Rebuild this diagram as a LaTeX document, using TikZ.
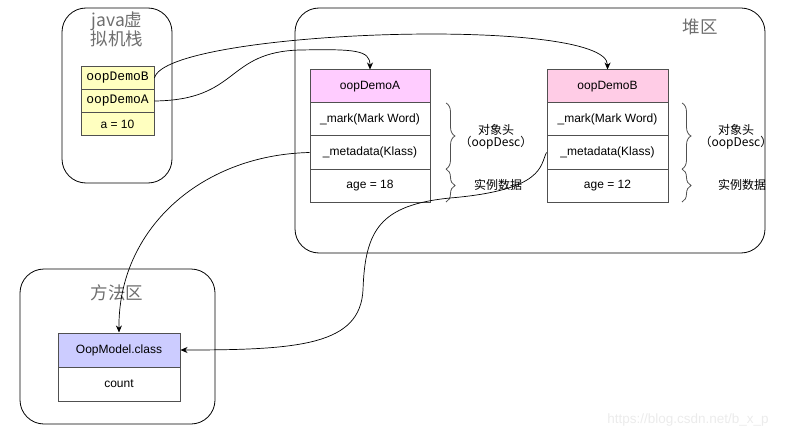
\documentclass[tikz,border=0pt]{standalone}
\usepackage{fontspec}
\setmainfont{Liberation Sans}
\newfontfamily\cjk{Noto Sans CJK SC}
\newfontfamily\monof{Liberation Mono}
\usetikzlibrary{decorations.pathreplacing,arrows.meta}
\definecolor{yel}{HTML}{FFFFC0}
\definecolor{pinkA}{HTML}{FFCCFF}
\definecolor{pinkB}{HTML}{FFCCE6}
\definecolor{blu}{HTML}{CCCCFF}
\definecolor{ttl}{HTML}{6E6E6E}
\definecolor{cellline}{HTML}{505050}
\tikzset{
  container/.style={draw=black, line width=0.8pt, rounded corners=24pt, inner sep=0pt},
  cell/.style={draw=cellline, line width=1pt, inner sep=0pt, font=\fontsize{12}{14}\selectfont},
  stackcell/.style={cell, fill=yel, minimum width=73pt, minimum height=23pt},
  heapcell/.style={cell, fill=white, minimum width=120pt, minimum height=33pt},
  title/.style={text=ttl, font=\cjk\fontsize{17.5}{20}\selectfont, inner sep=0pt},
  bracelbl/.style={font=\cjk\fontsize{12}{14}\selectfont, align=center},
  link/.style={draw=black, line width=0.7pt, -{Stealth[length=7pt,width=6pt]}},
  bracestyle/.style={draw=cellline, line width=0.8pt, decorate, decoration={brace, amplitude=9pt}}
}
\begin{document}
\begin{tikzpicture}[x=1pt,y=-1pt]
\useasboundingbox (0,0) rectangle (792,441);
% containers
\node[container, minimum width=110pt, minimum height=175pt] (jvm) at (117,95.5) {};
\node[container, minimum width=470pt, minimum height=245pt] (heap) at (530,130.5) {};
\node[container, minimum width=195pt, minimum height=155pt] (meth) at (117.5,346.5) {};
% titles
\node[title, anchor=base] (jvmt1) at (117,27) {java虚};
\node[title, anchor=base] (jvmt2) at (117,46) {拟机栈};
\node[title, anchor=base] (heapt) at (700,34) {堆区};
\node[title, anchor=base] (metht) at (117,299) {方法区};
% stack cells
\node[stackcell, font=\monof\fontsize{13}{15}\selectfont] (stackB) at (117.5,78) {oopDemoB};
\node[stackcell, font=\monof\fontsize{13}{15}\selectfont] (stackA) at (117.5,101) {oopDemoA};
\node[stackcell] (stackN) at (117.5,124) {a = 10};
% heap object A
\node[heapcell, fill=pinkA] (headA) at (370,86.5) {oopDemoA};
\node[heapcell] (markA) at (370,119.5) {\_mark(Mark Word)};
\node[heapcell] (metaA) at (370,152.5) {\_metadata(Klass)};
\node[heapcell] (ageA) at (370,185.5) {age = 18};
% heap object B
\node[heapcell, fill=pinkB, minimum width=121pt] (headB) at (607.5,86.5) {oopDemoB};
\node[heapcell, minimum width=121pt] (markB) at (607.5,119.5) {\_mark(Mark Word)};
\node[heapcell, minimum width=121pt] (metaB) at (607.5,152.5) {\_metadata(Klass)};
\node[heapcell, minimum width=121pt] (ageB) at (607.5,185.5) {age = 12};
% class
\node[cell, fill=blu, minimum width=122pt, minimum height=34pt] (cls) at (119,350) {OopModel.class};
\node[cell, fill=white, minimum width=122pt, minimum height=34pt] (cnt) at (119,384) {count};
% braces A
\coordinate (bA1) at (446,103);
\coordinate (bA2) at (446,169);
\coordinate (bA3) at (446,202);
\draw[bracestyle] (bA1) -- (bA2);
\draw[bracestyle] (bA2) -- (bA3);
\node[bracelbl] (hdrA) at (496,137) {对象头\\[-2pt]（oopDesc）};
\node[bracelbl] (dataA) at (498,185) {实例数据};
% braces B
\coordinate (bB1) at (682,103);
\coordinate (bB2) at (682,169);
\coordinate (bB3) at (682,202);
\draw[bracestyle] (bB1) -- (bB2);
\draw[bracestyle] (bB2) -- (bB3);
\node[bracelbl] (hdrB) at (736,137) {对象头\\[-2pt]（oopDesc）};
\node[bracelbl] (dataB) at (742,185) {实例数据};
% links
\draw[link] (stackB.east) .. controls (165,30) and (608,15) .. (headB.north);
\draw[link] (stackA.east) .. controls (240,100) and (225,52) .. (300,50) .. controls (355,49) and (370,50) .. (headA.north);
\draw[link] (metaA.west) .. controls (200,155) and (118,230) .. (cls.north);
\draw[link] (metaB.west) .. controls (540,165) and (545,190) .. (450,198) .. controls (380,205) and (365,230) .. (363,290) .. controls (360,345) and (300,350) .. (cls.east);
% watermark
\node[text=black!8, font=\fontsize{13.5}{16}\selectfont] (wm) at (688,420) {https://blog.csdn.net/b\_x\_p};
\end{tikzpicture}
\end{document}
